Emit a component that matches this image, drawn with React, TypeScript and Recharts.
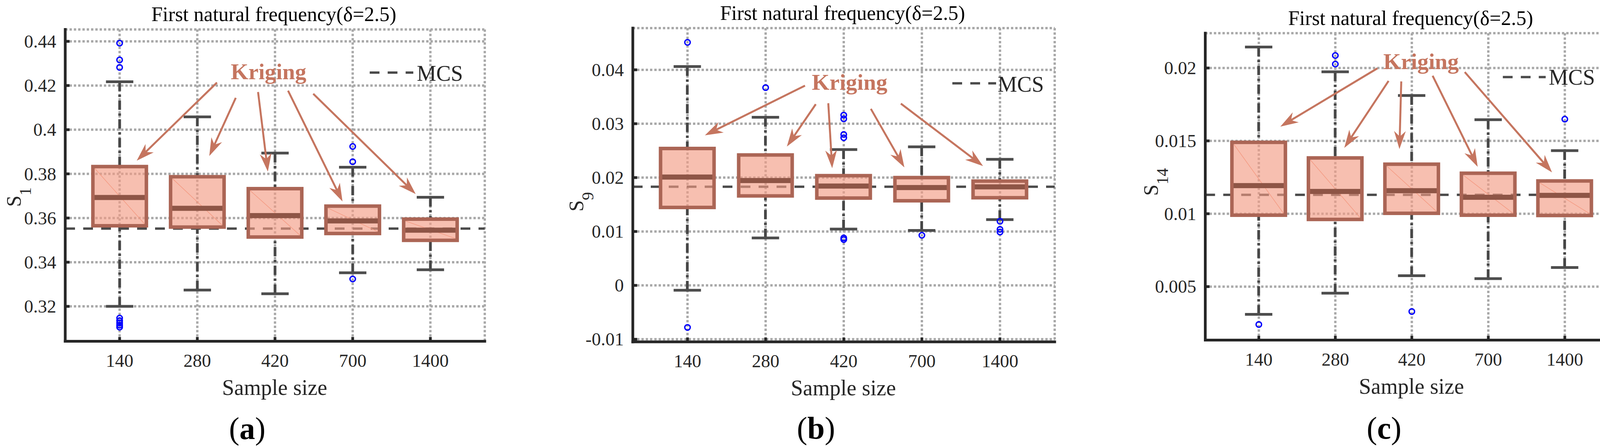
import React from "react";
import {
  Bar,
  CartesianGrid,
  ComposedChart,
  Label,
  ReferenceDot,
  ReferenceLine,
  Scatter,
  XAxis,
  YAxis,
} from "recharts";

const FONT = '"Liberation Serif", "Times New Roman", serif';
const AXIS = "#262626";
const ARROW = "#c5755f";
const BOX_W = 137;

const sampleSizes = ["140", "280", "420", "700", "1400"];
const categoryTicks = [1, 2, 3, 4, 5];
const title = "First natural frequency(δ=2.5)";

// (a) S1
const aLower = [0.32, 0.3274, 0.3257, 0.3352, 0.3366];
const aQ1 = [0.3565, 0.3559, 0.3514, 0.353, 0.3499];
const aMedian = [0.3693, 0.3644, 0.3611, 0.3587, 0.3545];
const aQ3 = [0.3833, 0.3787, 0.3733, 0.3654, 0.3595];
const aUpper = [0.4217, 0.4058, 0.3894, 0.383, 0.3694];
const aOutliers: [string, number][] = [
  ["140", 0.4392], ["140", 0.4316], ["140", 0.4282],
  ["140", 0.3147], ["140", 0.3135], ["140", 0.3125], ["140", 0.3115], ["140", 0.3106],
  ["700", 0.3924], ["700", 0.3855], ["700", 0.3324],
];
const aTicks = [0.32, 0.34, 0.36, 0.38, 0.4, 0.42, 0.44];
const aTickLabels = ["0.32", "0.34", "0.36", "0.38", "0.4", "0.42", "0.44"];
const aDomain = [0.3042, 0.4454];
const aMcs = 0.3552;
const aArrows = [
  [2.253, 0.42133, 1.22, 0.38596],
  [2.495, 0.41443, 2.154, 0.38807],
  [2.782, 0.41707, 2.908, 0.38104],
  [3.168, 0.41768, 3.869, 0.3675],
  [3.492, 0.41627, 4.811, 0.37084],
];
const aKriging = [2.917, 0.42286];
const aMcsKey = [4.219, 4.78, 0.42585, 4.825, 0.42221];

// (b) S9
const bLower = [-0.0009, 0.0088, 0.01045, 0.0102, 0.0122];
const bQ1 = [0.01446, 0.0166, 0.0162, 0.0157, 0.01626];
const bMedian = [0.0201, 0.01945, 0.01843, 0.01815, 0.01828];
const bQ3 = [0.0254, 0.0242, 0.02036, 0.02, 0.01935];
const bUpper = [0.0406, 0.0312, 0.0252, 0.0257, 0.0234];
const bOutliers: [string, number][] = [
  ["140", 0.0451], ["140", -0.0078],
  ["280", 0.0367],
  ["420", 0.0316], ["420", 0.0309], ["420", 0.028], ["420", 0.0274], ["420", 0.0088], ["420", 0.0085],
  ["700", 0.0093],
  ["1400", 0.0119], ["1400", 0.0104], ["1400", 0.0099],
];
const bTicks = [-0.01, 0, 0.01, 0.02, 0.03, 0.04];
const bTickLabels = ["-0.01", "0", "0.01", "0.02", "0.03", "0.04"];
const bDomain = [-0.01048, 0.04774];
const bMcs = 0.0183;
const bArrows = [
  [2.504, 0.03706, 1.223, 0.02785],
  [2.642, 0.03362, 2.272, 0.02576],
  [2.802, 0.0338, 2.852, 0.02174],
  [3.347, 0.03276, 3.776, 0.02188],
  [3.731, 0.03373, 4.783, 0.02215],
];
const bKriging = [3.075, 0.0363];
const bMcsKey = [4.39, 4.95, 0.0375, 4.97, 0.03597];

// (c) S14
const cLower = [0.0031, 0.00455, 0.00575, 0.00555, 0.00631];
const cQ1 = [0.0099, 0.00961, 0.01003, 0.0099, 0.00988];
const cMedian = [0.01193, 0.01153, 0.01158, 0.01113, 0.01126];
const cQ3 = [0.0149, 0.01383, 0.0134, 0.01278, 0.01225];
const cUpper = [0.02144, 0.01974, 0.01811, 0.01645, 0.01433];
const cOutliers: [string, number][] = [
  ["140", 0.0024],
  ["280", 0.02086], ["280", 0.02027],
  ["420", 0.00329],
  ["1400", 0.01649],
];
const cTicks = [0.005, 0.01, 0.015, 0.02];
const cTickLabels = ["0.005", "0.01", "0.015", "0.02"];
const cDomain = [0.00133, 0.02239];
const cMcs = 0.0113;
const cArrows = [
  [2.551, 0.01998, 1.281, 0.01598],
  [2.696, 0.01911, 2.117, 0.01452],
  [2.862, 0.01908, 2.838, 0.01444],
  [3.272, 0.01947, 3.861, 0.01322],
  [3.692, 0.01972, 4.833, 0.01284],
];
const cKriging = [3.121, 0.01993];
const cMcsKey = [4.19, 4.75, 0.01938, 4.79, 0.01885];

const panels = [
  {
    lower: aLower, q1: aQ1, med: aMedian, q3: aQ3, upper: aUpper, outliers: aOutliers,
    ticks: aTicks, tickLabels: aTickLabels, domain: aDomain, mcs: aMcs,
    arrows: aArrows, kriging: aKriging, mcsKey: aMcsKey, sub: "1", caption: "a",
    layout: { left: 0, width: 1300, yw: 167, top: 75.4, right: 59, bottom: 73.5, sx: -114, sy: 30, cap: 250, diag: true },
  },
  {
    lower: bLower, q1: bQ1, med: bMedian, q3: bQ3, upper: bUpper, outliers: bOutliers,
    ticks: bTicks, tickLabels: bTickLabels, domain: bDomain, mcs: bMcs,
    arrows: bArrows, kriging: bKriging, mcsKey: bMcsKey, sub: "9", caption: "b",
    layout: { left: 1380, width: 1400, yw: 240, top: 72, right: 80, bottom: 72, sx: -127, sy: 43, cap: 248, diag: false },
  },
  {
    lower: cLower, q1: cQ1, med: cMedian, q3: cQ3, upper: cUpper, outliers: cOutliers,
    ticks: cTicks, tickLabels: cTickLabels, domain: cDomain, mcs: cMcs,
    arrows: cArrows, kriging: cKriging, mcsKey: cMcsKey, sub: "14", caption: "c",
    layout: { left: 2762, width: 1400, yw: 323.5, top: 85, right: 19, bottom: 76.5, sx: -122, sy: -12, cap: 252.5, diag: true },
  },
];

const UpperWhisker = (p: any) => {
  const cx = p.x + p.width / 2;
  return (
    <g>
      <line x1={cx} x2={cx} y1={p.y} y2={p.y + p.height} stroke="#474747" strokeWidth={7} strokeDasharray="24 9 6 9" />
      <line x1={cx - 35} x2={cx + 35} y1={p.y} y2={p.y} stroke="#4d4d4d" strokeWidth={7} />
    </g>
  );
};

const LowerWhisker = (p: any) => {
  const cx = p.x + p.width / 2;
  const yb = p.y + p.height;
  return (
    <g>
      <line x1={cx} x2={cx} y1={yb} y2={p.y} stroke="#474747" strokeWidth={7} strokeDasharray="24 9 6 9" />
      <line x1={cx - 35} x2={cx + 35} y1={yb} y2={yb} stroke="#4d4d4d" strokeWidth={7} />
    </g>
  );
};

const makeBox = (diag: boolean) => (p: any) => (
  <g>
    <rect x={p.x} y={p.y} width={p.width} height={p.height} fill="#f29b84" fillOpacity={0.64} />
    {diag && (
      <line x1={p.x + 5} y1={p.y + 5} x2={p.x + p.width - 5} y2={p.y + p.height - 5} stroke="#f49a82" strokeWidth={1.5} />
    )}
  </g>
);

// the median bar spans q1 -> median, so its top edge sits on the median
const MedianShape = (p: any) => <rect x={p.x} y={p.y - 6.5} width={p.width} height={13} fill="#8e5546" />;

const BoxOutline = (p: any) => (
  <rect x={p.x} y={p.y} width={p.width} height={p.height} fill="none" stroke="#ab6555" strokeWidth={9} />
);

const Outlier = (p: any) => <circle cx={p.cx} cy={p.cy} r={7} fill="none" stroke="#0000ff" strokeWidth={3.5} />;

const Arrow = (p: any) => {
  const { x1, y1, x2, y2 } = p;
  const dx = x2 - x1;
  const dy = y2 - y1;
  const len = Math.hypot(dx, dy) || 1;
  const ux = dx / len;
  const uy = dy / len;
  const nx = -uy;
  const ny = ux;
  const L = 46;
  const W = 15;
  const N = 32;
  const bx = x2 - ux * L;
  const by = y2 - uy * L;
  const pts = [
    [x2, y2],
    [bx + nx * W, by + ny * W],
    [x2 - ux * N, y2 - uy * N],
    [bx - nx * W, by - ny * W],
  ]
    .map((q) => q.join(","))
    .join(" ");
  return (
    <g>
      <line x1={x1} y1={y1} x2={x2 - ux * N} y2={y2 - uy * N} stroke={ARROW} strokeWidth={5} />
      <polygon points={pts} fill={ARROW} />
    </g>
  );
};

function BoxPanel({ d }: { d: any }) {
  const l = d.layout;
  const plotW = l.width - l.yw - l.right;
  const rows = sampleSizes.map((s, i) => ({
    pos: i + 1,
    name: s,
    upperWhisker: [d.q3[i], d.upper[i]],
    lowerWhisker: [d.lower[i], d.q1[i]],
    box: [d.q1[i], d.q3[i]],
    medianBar: [d.q1[i], d.med[i]],
  }));
  const outlierRows = d.outliers.map(([s, v]: [string, number]) => ({ pos: sampleSizes.indexOf(s) + 1, v }));

  const leftTick = (p: any) => {
    const i = d.ticks.indexOf(p.payload.value);
    return (
      <g>
        <line x1={p.x} x2={p.x + 11} y1={p.y} y2={p.y} stroke={AXIS} strokeWidth={7} />
        <text x={p.x - 23} y={p.y + 16} textAnchor="end" fontFamily={FONT} fontSize={47} fill={AXIS}>
          {d.tickLabels[i]}
        </text>
      </g>
    );
  };
  const rightTick = (p: any) => <line x1={p.x - 11} x2={p.x} y1={p.y} y2={p.y} stroke={AXIS} strokeWidth={7} />;
  const bottomTick = (p: any) => (
    <g>
      <line x1={p.x} x2={p.x} y1={p.y} y2={p.y - 11} stroke={AXIS} strokeWidth={7} />
      <text x={p.x} y={p.y + 65} textAnchor="middle" fontFamily={FONT} fontSize={47} fill={AXIS}>
        {sampleSizes[categoryTicks.indexOf(p.payload.value)]}
      </text>
    </g>
  );
  const topTick = (p: any) => <line x1={p.x} x2={p.x} y1={p.y} y2={p.y + 11} stroke={AXIS} strokeWidth={7} />;

  const axisLine = { stroke: AXIS, strokeWidth: 7, strokeLinecap: "square" as const };

  return (
    <div style={{ position: "absolute", left: l.left, top: 0 }}>
      <ComposedChart
        width={l.width}
        height={1148}
        data={rows}
        margin={{ top: l.top, right: l.right, bottom: l.bottom, left: 0 }}
        barGap={-BOX_W}
      >
        <CartesianGrid stroke="#a9a9a9" strokeWidth={6} strokeDasharray="6 5" />
        <XAxis
          dataKey="pos"
          type="number"
          domain={[0.3, 5.7]}
          ticks={categoryTicks}
          allowDataOverflow
          height={200}
          tickSize={0}
          tickMargin={0}
          tickLine={false}
          axisLine={axisLine}
          tick={bottomTick}
        >
          <Label
            content={(p: any) => {
              const vb = p.viewBox;
              const cx = vb.x + vb.width / 2;
              return (
                <g>
                  <text x={cx - 1} y={vb.y + 137} textAnchor="middle" fontFamily={FONT} fontSize={56} fill={AXIS}>
                    Sample size
                  </text>
                  <text x={cx - 71} y={vb.y + l.cap} textAnchor="middle" fontFamily={FONT} fontSize={80} fill="#000">
                    (<tspan fontWeight="bold">{d.caption}</tspan>)
                  </text>
                </g>
              );
            }}
          />
        </XAxis>
        <XAxis
          xAxisId="top"
          dataKey="pos"
          type="number"
          orientation="top"
          domain={[0.3, 5.7]}
          ticks={categoryTicks}
          allowDataOverflow
          height={0}
          tickSize={0}
          tickMargin={0}
          tickLine={false}
          axisLine={axisLine}
          tick={topTick}
        />
        <YAxis
          type="number"
          domain={d.domain}
          ticks={d.ticks}
          allowDataOverflow
          width={l.yw}
          tickSize={0}
          tickMargin={0}
          tickLine={false}
          axisLine={axisLine}
          tick={leftTick}
        >
          <Label
            content={(p: any) => {
              const vb = p.viewBox;
              const bx = vb.x + vb.width + l.sx;
              const cy = vb.y + vb.height / 2 + l.sy;
              return (
                <g>
                  <text
                    x={vb.x + vb.width + plotW / 2 - 3}
                    y={vb.y - 21}
                    textAnchor="middle"
                    fontFamily={FONT}
                    fontSize={52}
                    fill="#000"
                  >
                    {title}
                  </text>
                  <text
                    x={bx}
                    y={cy}
                    transform={`rotate(-90 ${bx} ${cy})`}
                    textAnchor="middle"
                    fontFamily={FONT}
                    fontSize={52}
                    fill={AXIS}
                  >
                    S
                    <tspan dy={26} fontSize={42}>
                      {d.sub}
                    </tspan>
                  </text>
                </g>
              );
            }}
          />
        </YAxis>
        <YAxis
          yAxisId="r"
          orientation="right"
          type="number"
          domain={d.domain}
          ticks={d.ticks}
          allowDataOverflow
          width={0}
          tickSize={0}
          tickMargin={0}
          tickLine={false}
          axisLine={axisLine}
          tick={rightTick}
        />

        <ReferenceLine y={d.mcs} stroke="#4a4a4a" strokeWidth={6} strokeDasharray="25 21" zIndex={250} />

        <Bar dataKey="upperWhisker" barSize={BOX_W} shape={UpperWhisker} isAnimationActive={false} />
        <Bar dataKey="lowerWhisker" barSize={BOX_W} shape={LowerWhisker} isAnimationActive={false} />
        <Bar dataKey="box" barSize={BOX_W} shape={makeBox(l.diag)} isAnimationActive={false} />
        <Bar dataKey="medianBar" barSize={BOX_W} shape={MedianShape} isAnimationActive={false} />
        <Bar dataKey="box" barSize={BOX_W} shape={BoxOutline} isAnimationActive={false} />

        <Scatter data={outlierRows} dataKey="v" shape={Outlier} isAnimationActive={false} />

        {d.arrows.map((a: number[], i: number) => (
          <ReferenceLine
            key={i}
            segment={[
              { x: a[0], y: a[1] },
              { x: a[2], y: a[3] },
            ]}
            shape={Arrow}
          />
        ))}
        <ReferenceDot
          x={d.kriging[0]}
          y={d.kriging[1]}
          r={0}
          shape={(p: any) => (
            <text x={p.cx} y={p.cy} textAnchor="middle" fontFamily={FONT} fontSize={58} fontWeight="bold" fill={ARROW}>
              Kriging
            </text>
          )}
        />
        <ReferenceLine
          segment={[
            { x: d.mcsKey[0], y: d.mcsKey[2] },
            { x: d.mcsKey[1], y: d.mcsKey[2] },
          ]}
          stroke="#4a4a4a"
          strokeWidth={6}
          strokeDasharray="25 21"
        />
        <ReferenceDot
          x={d.mcsKey[3]}
          y={d.mcsKey[4]}
          r={0}
          shape={(p: any) => (
            <text x={p.cx} y={p.cy} fontFamily={FONT} fontSize={56} fill={AXIS}>
              MCS
            </text>
          )}
        />
      </ComposedChart>
    </div>
  );
}

export default function App() {
  return (
    <div style={{ position: "absolute", left: 0, top: 0, width: 4162, height: 1148, background: "#fff" }}>
      {panels.map((d, i) => (
        <BoxPanel key={i} d={d} />
      ))}
    </div>
  );
}
